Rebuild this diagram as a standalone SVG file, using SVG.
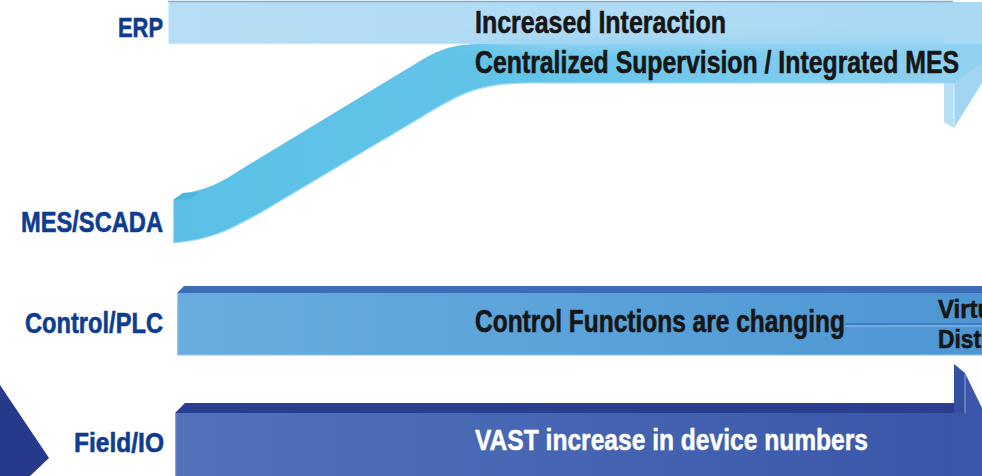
<svg xmlns="http://www.w3.org/2000/svg" width="982" height="476" viewBox="0 0 982 476">
  <defs>
    <linearGradient id="gMes" gradientUnits="userSpaceOnUse" x1="170" y1="0" x2="982" y2="0">
      <stop offset="0" stop-color="#5cc0e6"/>
      <stop offset="0.45" stop-color="#63c4e9"/>
      <stop offset="1" stop-color="#92d2f1"/>
    </linearGradient>
    <linearGradient id="gErp" gradientUnits="userSpaceOnUse" x1="168" y1="0" x2="982" y2="0">
      <stop offset="0" stop-color="#b6def5"/>
      <stop offset="1" stop-color="#a9d8f3"/>
    </linearGradient>
    <linearGradient id="gBlend" x1="0" y1="0" x2="0" y2="1">
      <stop offset="0" stop-color="#aad9f3" stop-opacity="0"/>
      <stop offset="0.35" stop-color="#a2d6f2"/>
      <stop offset="1" stop-color="#7ccbee" stop-opacity="0"/>
    </linearGradient>
    <linearGradient id="gFade" gradientUnits="userSpaceOnUse" x1="450" y1="0" x2="540" y2="0">
      <stop offset="0" stop-color="#fff" stop-opacity="0"/>
      <stop offset="1" stop-color="#fff" stop-opacity="1"/>
    </linearGradient>
    <mask id="mFade" maskUnits="userSpaceOnUse" x="0" y="0" width="982" height="476">
      <rect x="0" y="0" width="982" height="476" fill="url(#gFade)"/>
    </mask>
    <linearGradient id="gCtl" gradientUnits="userSpaceOnUse" x1="177" y1="0" x2="982" y2="0">
      <stop offset="0" stop-color="#67addf"/>
      <stop offset="0.5" stop-color="#5aa2d9"/>
      <stop offset="1" stop-color="#4e96d2"/>
    </linearGradient>
    <linearGradient id="gField" gradientUnits="userSpaceOnUse" x1="175" y1="0" x2="982" y2="0">
      <stop offset="0" stop-color="#5073ba"/>
      <stop offset="0.5" stop-color="#4565b2"/>
      <stop offset="1" stop-color="#3955a8"/>
    </linearGradient>
    <style>
      .lbl { font-family: "Liberation Sans", Arial, sans-serif; font-weight: bold; fill: #0e3c8e; stroke: #0e3c8e; stroke-width: 0.6; }
      .txt { font-family: "Liberation Sans", Arial, sans-serif; font-weight: bold; fill: #161616; stroke: #161616; stroke-width: 0.6; }
      .wtxt { font-family: "Liberation Sans", Arial, sans-serif; font-weight: bold; fill: #ffffff; stroke: #ffffff; stroke-width: 0.5; }
    </style>
  </defs>

  <rect x="0" y="0" width="982" height="476" fill="#ffffff"/>

  <!-- bottom-left triangle -->
  <polygon points="0,385 49,458 30,476 0,476" fill="#27398b"/>

  <!-- MES/SCADA rising band -->
  <g id="node-mes-band">
    <path d="M173,200 L183,193 C205,191 222,182 240,170 L425,58 C445,47 458,44 482,44 L982,44 L982,83 L530,83 C480,83 460,93 420,118 L260,213 C230,230 210,240 173,243 Z" fill="url(#gMes)"/>
    <path d="M173,200 L183,193 C190,193 195,193 200,192 L190,199 Z" fill="#4fb4df"/>
    <line x1="173.5" y1="200" x2="173.5" y2="243" stroke="#9fdcf5" stroke-width="1.2"/>
    <path d="M173,243 C210,240 230,230 260,213 L420,118 C460,93 480,83 530,83 L944,83" fill="none" stroke="#a5def6" stroke-width="1.2"/>
  </g>

  <!-- ERP bar -->
  <g id="node-erp-bar">
    <rect x="168" y="2" width="814" height="42" fill="url(#gErp)"/>
    <line x1="168" y1="1.5" x2="953" y2="1.5" stroke="#79afd6" stroke-width="1.5"/>
    <line x1="168.6" y1="2" x2="168.6" y2="44" stroke="#dcf0fb" stroke-width="1.2"/>
    <line x1="168" y1="44" x2="470" y2="44" stroke="#e4f4fc" stroke-width="1.2"/>
    <rect x="440" y="28" width="504" height="34" fill="url(#gBlend)" mask="url(#mFade)"/>
    <!-- arrowhead barb -->
    <polygon points="944,83 954,83 954,128 944,122" fill="#b6e0f6"/>
    <polygon points="954,83 982,63 982,83 954,128" fill="#a2d5f1"/>
    <line x1="954" y1="84" x2="954" y2="126" stroke="#e2f4fd" stroke-width="1"/>
  </g>

  <!-- Control/PLC bar -->
  <g id="node-control-bar">
    <polygon points="177,293 184,286 982,286 982,293" fill="#3c6db6"/>
    <rect x="177" y="293" width="805" height="62" fill="url(#gCtl)"/>
    <line x1="177.6" y1="293" x2="177.6" y2="355" stroke="#9ccbee" stroke-width="1.2"/>
    <line x1="177" y1="355" x2="982" y2="355" stroke="#8fc4ea" stroke-width="1.2"/>
    <line x1="845" y1="324" x2="982" y2="324" stroke="#3a76bf" stroke-width="1.5"/>
    <line x1="845" y1="326" x2="982" y2="326" stroke="#8cc4ec" stroke-width="1"/>
  </g>

  <!-- Field/IO bar -->
  <g id="node-field-bar">
    <polygon points="175,413 185,403 954,403 954,413" fill="#2a3e8f"/>
    <rect x="175" y="413" width="807" height="63" fill="url(#gField)"/>
    <line x1="175.6" y1="413" x2="175.6" y2="476" stroke="#8aa3da" stroke-width="1.2"/>
    <polygon points="954,364 965,373 965,413 954,413" fill="#3350a3"/>
    <polygon points="965,373 982,408 982,476 954,476 954,413 965,413" fill="#3b57aa"/>
    <line x1="965" y1="374" x2="965" y2="413" stroke="#8ea4dc" stroke-width="1"/>
  </g>

  <!-- level labels -->
  <g id="label-erp"><text class="lbl" x="118" y="37" font-size="28" textLength="45" lengthAdjust="spacingAndGlyphs">ERP</text></g>
  <g id="label-mes"><text class="lbl" x="21" y="232" font-size="29" textLength="142" lengthAdjust="spacingAndGlyphs">MES/SCADA</text></g>
  <g id="label-control"><text class="lbl" x="25" y="333" font-size="29" textLength="138" lengthAdjust="spacingAndGlyphs">Control/PLC</text></g>
  <g id="label-field"><text class="lbl" x="74" y="452" font-size="28" textLength="90" lengthAdjust="spacingAndGlyphs">Field/IO</text></g>

  <!-- band texts -->
  <g id="text-top">
    <text class="txt" x="475" y="33" font-size="31" textLength="251" lengthAdjust="spacingAndGlyphs">Increased Interaction</text>
    <text class="txt" x="475" y="73" font-size="31" textLength="484" lengthAdjust="spacingAndGlyphs">Centralized Supervision / Integrated MES</text>
  </g>
  <g id="text-control">
    <text class="txt" x="475" y="332" font-size="31" textLength="370" lengthAdjust="spacingAndGlyphs">Control Functions are changing</text>
    <text class="txt" x="938" y="318" font-size="25" textLength="54" lengthAdjust="spacingAndGlyphs">Virtu</text>
    <text class="txt" x="938" y="348" font-size="25" textLength="52" lengthAdjust="spacingAndGlyphs">Distr</text>
  </g>
  <g id="text-field">
    <text class="wtxt" x="475" y="450" font-size="30" textLength="393" lengthAdjust="spacingAndGlyphs">VAST increase in device numbers</text>
  </g>
</svg>
